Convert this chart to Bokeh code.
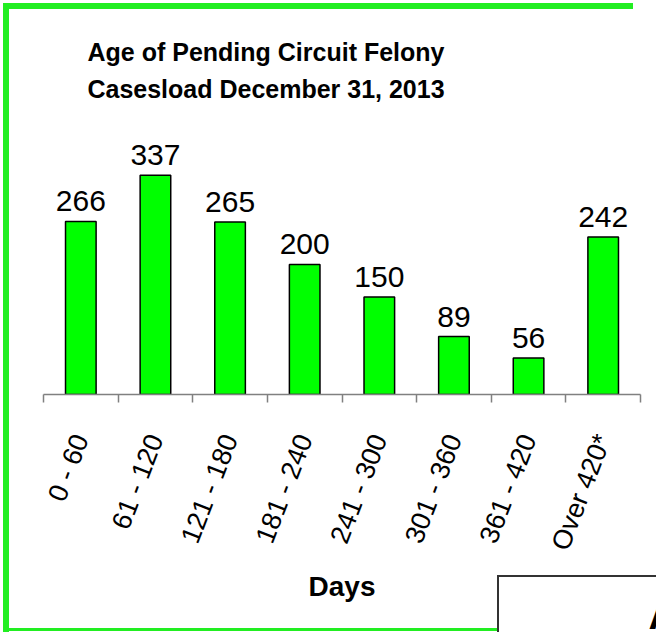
import math
from bokeh.plotting import figure
from bokeh.layouts import column
from bokeh.models import (ColumnDataSource, Range1d, LinearAxis, CategoricalAxis,
                          FixedTicker, Label, Title)
from bokeh.embed import file_html
from bokeh.resources import INLINE
from bokeh.core.properties import value

categories = ["0 - 60", "61 - 120", "121 - 180", "181 - 240",
              "241 - 300", "301 - 360", "361 - 420", "Over 420*"]
cases = [266, 337, 265, 200, 150, 89, 56, 242]
title_lines = ["Age of Pending Circuit Felony", "Casesload December 31, 2013"]
x_title = "Days"
box_text = "A"

FONT = "Liberation Sans"
GREEN_FRAME = "#22ee22"

src = ColumnDataSource(dict(cat=categories, val=cases, lbl=[str(v) for v in cases]))

W, H = 656, 632
p = figure(width=W, height=H, x_range=categories, y_range=Range1d(0, 598),
           output_backend="svg", toolbar_location=None,
           x_axis_location=None, y_axis_location=None,
           min_border_left=43, min_border_right=16,
           min_border_top=5, min_border_bottom=238)
p.xgrid.visible = False
p.ygrid.visible = False
p.outline_line_color = None
p.background_fill_color = None
p.border_fill_color = None

# tick marks at the category boundaries (synthetic coordinates 0..n), as minor ticks
tick_axis = LinearAxis(ticker=FixedTicker(ticks=[], minor_ticks=list(range(len(categories) + 1))),
                       major_tick_in=0, major_tick_out=0, minor_tick_in=0, minor_tick_out=8,
                       axis_line_color="#808080", axis_line_width=1.5,
                       minor_tick_line_color="#808080", minor_tick_line_width=1.5,
                       major_label_standoff=0)
p.add_layout(tick_axis, "below")

cat_axis = CategoricalAxis(axis_line_color=None, major_tick_line_color=None,
                           major_tick_in=0, major_tick_out=0,
                           major_label_orientation=math.radians(69),
                           major_label_standoff=33,
                           major_label_text_font=FONT,
                           major_label_text_font_size="27px",
                           major_label_text_color="black",
                           axis_label=x_title,
                           axis_label_text_font=FONT,
                           axis_label_text_font_style="bold",
                           axis_label_text_font_size="28px",
                           axis_label_text_color="black",
                           axis_label_standoff=8)
p.add_layout(cat_axis, "below")

# the neighbouring text box, cut by the picture's edge
p.add_layout(Title(text=box_text, align="left", offset=605, vertical_align="top",
                   standoff=-24, text_font=FONT, text_font_style="bold",
                   text_font_size="40px", text_color="black"), "below")

p.vbar(x="cat", top="val", width=0.41, bottom=0, source=src,
       fill_color="#00ff00", line_color="black", line_width=1.5)

p.text(x="cat", y="val", text="lbl", source=src, text_align="center",
       text_baseline="alphabetic", y_offset=-20,
       text_font=value(FONT), text_font_size="30px", text_color="black")

for i, t in enumerate(title_lines):
    p.add_layout(Label(x=265.5, y=51 + 37.5 * i, x_units="canvas", y_units="canvas", text=t,
                       text_font=FONT, text_font_style="bold", text_font_size="25px",
                       text_align="center", text_baseline="alphabetic", text_color="black"))

# decorative frame of the original picture + the text box outline (CSS, behind the canvas)
layout = column(p, width=W, height=H)
layout.styles = {
    "background-color": "white",
    "background-image": ", ".join(["linear-gradient(#333333,#333333)"] * 2 +
                                  [f"linear-gradient({GREEN_FRAME},{GREEN_FRAME})"] * 3),
    "background-position": "497px 575px, 497px 575px, 3px 3px, 3px 3px, 3px 628px",
    "background-size": "159px 2px, 2px 57px, 6px 629px, 630px 6px, 494px 3px",
    "background-repeat": "no-repeat",
}

open("out.html", "w").write(file_html(layout, INLINE))
